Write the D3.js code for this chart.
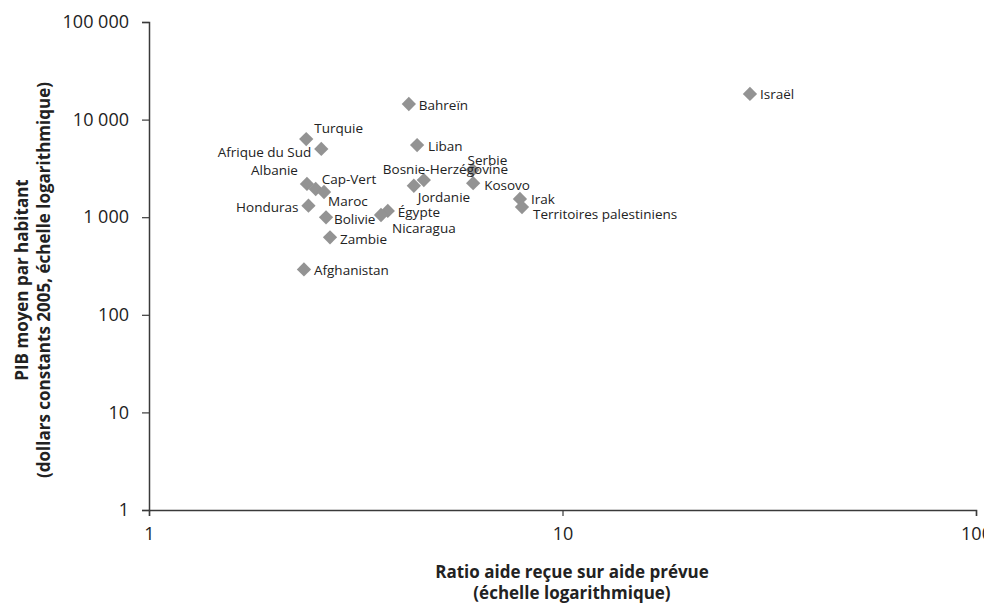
<!DOCTYPE html>
<html><head><meta charset="utf-8">
<script src="https://cdn.jsdelivr.net/npm/d3@7"></script>
<style>body{margin:0;background:#fff}svg{display:block}text{font-family:"Open Sans",sans-serif}</style>
</head><body>
<svg id="c" width="984" height="604"></svg>
<script>
const countries = ["Israël","Bahreïn","Turquie","Afrique du Sud","Liban","Serbie","Bosnie-Herzégovine","Kosovo","Jordanie","Irak","Territoires palestiniens","Albanie","Cap-Vert","Maroc","Honduras","Bolivie","Zambie","Afghanistan","Égypte","Nicaragua"];
const ratio = [28.4,4.25,2.40,2.61,4.45,6.06,4.62,6.08,4.37,7.89,7.98,2.41,2.53,2.65,2.43,2.68,2.74,2.37,3.78,3.64];
const gdp = [18300,14450,6320,5000,5490,3050,2400,2230,2100,1537,1271,2190,1945,1812,1312,997,622,292,1158,1053];
const xTicks = [1,10,100];
const yTicks = [1,10,100,1000,10000,100000];
const xTitle = ["Ratio aide reçue sur aide prévue","(échelle logarithmique)"];
const yTitle = ["PIB moyen par habitant","(dollars constants 2005, échelle logarithmique)"];

// label placement (layout, not data): [dx, dy, anchor]
const labelPos = {
 "Israël":[10,0,"start"],"Bahreïn":[10,1,"start"],"Turquie":[8,-11,"start"],
 "Afrique du Sud":[-10,3,"end"],"Liban":[11,1,"start"],"Serbie":[-5,-10,"start"],
 "Bosnie-Herzégovine":[-41,-11,"start"],"Kosovo":[11,2,"start"],"Jordanie":[4,12,"start"],
 "Irak":[11,0,"start"],"Territoires palestiniens":[11,7,"start"],"Albanie":[-9,-14,"end"],
 "Cap-Vert":[6,-10,"start"],"Maroc":[4,9,"start"],"Honduras":[-10,2,"end"],
 "Bolivie":[8,2,"start"],"Zambie":[10,2,"start"],"Afghanistan":[10,1,"start"],
 "Égypte":[10,1,"start"],"Nicaragua":[11,13,"start"]
};

const svg = d3.select("#c");
const L=149, R=976, T=22, B=510;
const x = d3.scaleLog().domain([1,100]).range([L,R]);
const y = d3.scaleLog().domain([1,100000]).range([B,T]);
const fmt = d => d3.format(",")(d).replace(/,/g,"\u00a0");
const axisCol = "#3a3a3a";

const gx = svg.append("g").attr("transform",`translate(0,${B})`)
  .call(d3.axisBottom(x).tickValues(xTicks).tickFormat(d3.format("d")).tickSize(6).tickPadding(10));
const gy = svg.append("g").attr("transform",`translate(${L},0)`)
  .call(d3.axisLeft(y).tickValues(yTicks).tickFormat(fmt).tickSize(7).tickPadding(13));
[gx,gy].forEach(g=>{
  g.select(".domain").attr("stroke",axisCol).attr("stroke-width",1.5);
  g.selectAll(".tick line").attr("stroke",axisCol).attr("stroke-width",1.2);
  g.selectAll(".tick text").attr("fill","#222").style("font-size","18px").style("font-family","Open Sans");
});
gx.selectAll(".tick text").attr("dy","0.8em");

const data = countries.map((c,i)=>({c, x:ratio[i], y:gdp[i]}));
const sym = d3.symbol().type(d3.symbolDiamond2).size(130);
svg.append("g").selectAll("path").data(data).join("path")
  .attr("d",sym).attr("transform",d=>`translate(${x(d.x)},${y(d.y)})`)
  .attr("fill","#939393");

svg.append("g").selectAll("text").data(data).join("text")
  .attr("x",d=>x(d.x)+labelPos[d.c][0]).attr("y",d=>y(d.y)+labelPos[d.c][1])
  .attr("dy","0.35em").attr("text-anchor",d=>labelPos[d.c][2])
  .style("font-size","13.5px").attr("fill","#222").text(d=>d.c);

const xt = svg.append("text").attr("text-anchor","middle").style("font-size","17px").style("font-weight","bold").attr("fill","#222");
xTitle.forEach((t,i)=>xt.append("tspan").attr("x",572).attr("y",578+i*21).text(t));
const yt = svg.append("text").attr("text-anchor","middle").style("font-size","17px").style("font-weight","bold").attr("fill","#222")
  .attr("transform",`translate(28,280) rotate(-90)`);
yTitle.forEach((t,i)=>yt.append("tspan").attr("x",0).attr("y",i*22).text(t));
</script>
</body></html>
